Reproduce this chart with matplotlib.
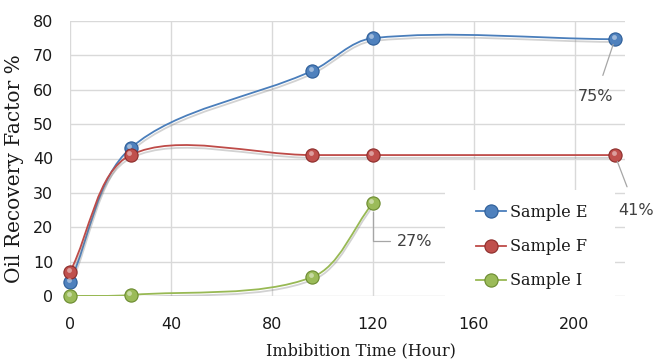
import numpy as np
import matplotlib
matplotlib.use('Agg')
import matplotlib.pyplot as plt
import matplotlib.patheffects as pe
from matplotlib.path import Path
from matplotlib.patches import PathPatch, Rectangle
from matplotlib.lines import Line2D
from matplotlib.transforms import ScaledTranslation

# data
hours_ef = [0, 24, 96, 120, 216]
sample_e = [4, 43, 65.5, 75, 74.7]
sample_f = [7, 41, 41, 41, 41]
hours_i = [0, 24, 96, 120]
sample_i = [0, 0.3, 5.5, 27]

series = [
    ('Sample E', hours_ef, sample_e, '#4a7ebb', '#4f81bd', '#2c5d98'),
    ('Sample F', hours_ef, sample_f, '#be4b48', '#c0504d', '#8c2c2a'),
    ('Sample I', hours_i, sample_i, '#98b954', '#9bbb59', '#6a8a2f'),
]

XMAX, YMAX = 220, 80


def smooth_path(xs, ys, sx, sy):
    """Excel-like smoothed line: cubic beziers with chord-length tangents."""
    pts = np.column_stack([np.asarray(xs, float) * sx, np.asarray(ys, float) * sy])
    n = len(pts)
    tang = np.zeros_like(pts)
    tang[0] = pts[1] - pts[0]
    tang[-1] = pts[-1] - pts[-2]
    for i in range(1, n - 1):
        tang[i] = pts[i + 1] - pts[i - 1]
    seg = np.hypot(*(pts[1:] - pts[:-1]).T)
    verts = [pts[0]]
    codes = [Path.MOVETO]
    for i in range(n - 1):
        d = seg[i]
        dp = seg[i - 1] if i > 0 else d
        dn = seg[i + 1] if i < n - 2 else d
        c1 = pts[i] + tang[i] * d / (3 * (dp + d)) * (2 if i == 0 else 1)
        c2 = pts[i + 1] - tang[i + 1] * d / (3 * (d + dn)) * (2 if i == n - 2 else 1)
        verts += [c1, c2, pts[i + 1]]
        codes += [Path.CURVE4] * 3
    verts = np.array(verts) / [sx, sy]
    return Path(verts, codes)


fig = plt.figure(figsize=(6.55, 3.63), dpi=100)
ax = fig.add_axes([70 / 655, 1 - 296 / 363, 555 / 655, 275 / 363])
ax.set_xlim(0, XMAX)
ax.set_ylim(0, YMAX)
ax.set_xticks(np.arange(0, 201, 40))
ax.set_yticks(np.arange(0, 81, 10))
ax.set_axisbelow(True)
ax.grid(True, color='#d9d9d9', lw=1)
for s in ax.spines.values():
    s.set_visible(False)
ax.tick_params(length=0, labelsize=11.5, labelcolor='#1a1a1a')
ax.tick_params(axis='y', pad=12)
ax.tick_params(axis='x', pad=15)
for lab in ax.get_xticklabels() + ax.get_yticklabels():
    lab.set_family('DejaVu Sans')

# pixels per data unit
sx = 555 / XMAX
sy = 275 / YMAX

shadow = [pe.SimpleLineShadow(offset=(0.5, -2), shadow_color='#808080', alpha=0.35),
          pe.Normal()]
hi = ax.transData + ScaledTranslation(-1 / 72, 1.5 / 72, fig.dpi_scale_trans)

handles = []
for name, xs, ys, lc, mc, ec in series:
    patch = PathPatch(smooth_path(xs, ys, sx, sy), facecolor='none', edgecolor=lc,
                      lw=1.3, zorder=3, path_effects=shadow)
    ax.add_patch(patch)
    ax.plot(xs, ys, 'o', ms=9.5, mfc=mc, mec=ec, mew=0.8, zorder=4, clip_on=False)
    ax.plot(xs, ys, 'o', ms=3.5, mfc='white', mec='none', alpha=0.45, zorder=5,
            clip_on=False, transform=hi)
    handles.append(Line2D([], [], color=lc, lw=1.3, marker='o', ms=9.5,
                          mfc=mc, mec=ec, mew=0.8, label=name))

# white legend background hiding the grid
ax.add_patch(Rectangle((445 / 655, 1 - 305 / 363), 170 / 655, 115 / 363,
                       transform=fig.transFigure, facecolor='white',
                       edgecolor='none', zorder=1.5, clip_on=False))
leg = ax.legend(handles=handles, frameon=False, loc='upper left',
                bbox_to_anchor=(468 / 655, 1 - 196 / 363), bbox_transform=fig.transFigure,
                prop={'family': 'DejaVu Serif', 'size': 11.5}, handlelength=1.85,
                handletextpad=0.3, labelspacing=1.08, borderpad=0)
for t in leg.get_texts():
    t.set_color('#1a1a1a')

# data labels with leader lines
lbl = dict(textcoords='offset pixels', fontsize=11.5, color='#404040',
           family='DejaVu Sans', annotation_clip=False, zorder=6)
ax.annotate('75%', xy=(hours_ef[-1], sample_e[-1]), xytext=(-19, -57),
            ha='center', va='center',
            arrowprops=dict(arrowstyle='-', color='#a6a6a6', lw=0.9, shrinkA=8, shrinkB=4),
            **lbl)
ax.annotate('41%', xy=(hours_ef[-1], sample_f[-1]), xytext=(21, -55),
            ha='center', va='center',
            arrowprops=dict(arrowstyle='-', color='#a6a6a6', lw=0.9, shrinkA=10, shrinkB=5),
            **lbl)
ax.annotate('27%', xy=(hours_i[-1], sample_i[-1]), xytext=(24, -38),
            ha='left', va='center',
            arrowprops=dict(arrowstyle='-', color='#a6a6a6', lw=0.9, shrinkA=3, shrinkB=6,
                            connectionstyle='angle,angleA=0,angleB=90,rad=0'),
            **lbl)

fig.text(361 / 655, 1 - 351 / 363, 'Imbibition Time (Hour)', ha='center', va='center',
         family='DejaVu Serif', fontsize=11.6, color='#1a1a1a')
fig.text(15 / 655, 1 - 169 / 363, 'Oil Recovery Factor %', ha='center', va='center',
         rotation=90, family='DejaVu Serif', fontsize=14.5, color='#1a1a1a')

fig.savefig('out.png', dpi=100)
